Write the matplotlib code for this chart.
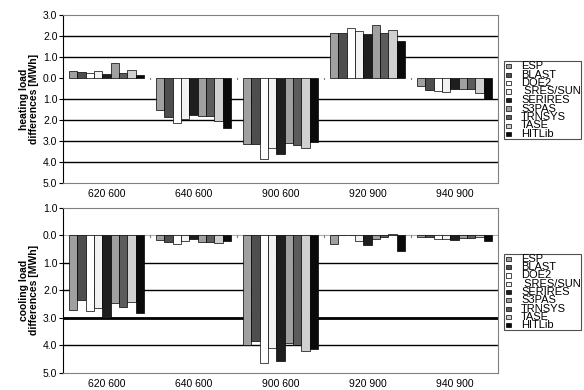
import matplotlib
matplotlib.use("Agg")
import matplotlib.pyplot as plt
import matplotlib.transforms as mtransforms
from matplotlib.patches import Rectangle
from matplotlib.ticker import FuncFormatter, FixedLocator
import numpy as np

plt.rcParams['font.family'] = ['Liberation Sans', 'DejaVu Sans']

cases = ["620 600", "640 600", "900 600", "920 900", "940 900"]
programs = ["ESP", "BLAST", "DOE2", " SRES/SUN", "SERIRES", "S3PAS", "TRNSYS", "TASE", "HITLib"]
colors = ["#a0a0a0", "#4e4e4e", "#ffffff", "#f2f2f2", "#1e1e1e", "#a0a0a0", "#5c5c5c", "#d0d0d0", "#0a0a0a"]

# heating load differences [MWh], per program, across cases
heating = {
    "ESP":       [0.35, -1.52, -3.13, 2.16, -0.38],
    "BLAST":     [0.30, -1.86, -3.16, 2.16, -0.57],
    "DOE2":      [0.25, -2.16, -3.84, 2.40, -0.63],
    " SRES/SUN": [0.35, -1.94, -3.32, 2.22, -0.67],
    "SERIRES":   [0.17, -1.76, -3.60, 2.10, -0.54],
    "S3PAS":     [0.71, -1.79, -3.11, 2.54, -0.51],
    "TRNSYS":    [0.22, -1.81, -3.19, 2.14, -0.54],
    "TASE":      [0.40, -2.03, -3.32, 2.29, -0.73],
    "HITLib":    [0.16, -2.36, -3.05, 1.75, -1.01],
}
# cooling load differences [MWh]
cooling = {
    "ESP":       [-2.72, -0.19, -4.00, -0.31, -0.06],
    "BLAST":     [-2.34, -0.25, -3.83,  0.02, -0.07],
    "DOE2":      [-2.76, -0.33, -4.64, -0.01, -0.13],
    " SRES/SUN": [-2.66, -0.23, -4.11, -0.23, -0.14],
    "SERIRES":   [-2.99, -0.14, -4.57, -0.35, -0.19],
    "S3PAS":     [-2.48, -0.24, -3.93, -0.13, -0.11],
    "TRNSYS":    [-2.60, -0.24, -4.00, -0.08, -0.12],
    "TASE":      [-2.44, -0.28, -4.19,  0.03, -0.06],
    "HITLib":    [-2.82, -0.22, -4.13, -0.57, -0.20],
}

W, H = 584, 390
fig = plt.figure(figsize=(W / 100, H / 100), dpi=100)

def fx(px):
    return px / W

def fy(py):
    return 1 - py / H

bw = 0.0958
x = np.arange(len(cases))

def panel(rect, data, ylim, ylabel, thick=None):
    ax = fig.add_axes(rect)
    n = len(programs)
    for i, p in enumerate(programs):
        off = (i - (n - 1) / 2) * bw
        ax.bar(x + off, data[p], width=bw, color=colors[i], edgecolor="black",
               linewidth=0.5, zorder=3, label=p)
    ax.set_xlim(-0.5, len(cases) - 0.5)
    ax.set_ylim(*ylim)
    yt = np.arange(ylim[0], ylim[1] + 0.5, 1.0)
    ax.yaxis.set_major_locator(FixedLocator(yt))
    ax.yaxis.set_major_formatter(FuncFormatter(lambda v, pos: f"{abs(v):.1f}"))
    for v in yt:
        if v in (ylim[0], ylim[1]) or v == 0:
            continue
        lw = 2.0 if (thick is not None and v == thick) else 1.0
        ax.axhline(v, color="black", linewidth=lw, zorder=1)
    # small category ticks on zero line
    for b in np.arange(0.5, len(cases) - 0.5, 1.0):
        ax.plot([b, b], [0, -0.06], color="#808080", linewidth=0.8, zorder=2)
    ax.set_xticks(x)
    ax.set_xticklabels(cases, fontsize=7.5)
    offset = mtransforms.ScaledTranslation(5 / 100, 0, fig.dpi_scale_trans)
    for lab in ax.get_xticklabels():
        lab.set_transform(lab.get_transform() + offset)
    ax.tick_params(axis="x", length=0, pad=4)
    ax.tick_params(axis="y", labelsize=7.5, length=3, width=0.8, pad=1, direction="out")
    for s in ["top", "right", "bottom"]:
        ax.spines[s].set_color("#808080")
        ax.spines[s].set_linewidth(0.8)
    ax.spines["left"].set_color("black")
    ax.spines["left"].set_linewidth(0.8)
    ax.set_ylabel(ylabel, fontsize=7.5, fontweight="bold", labelpad=3, linespacing=1.0)
    return ax

ax1 = panel([fx(63), fy(183), 435 / W, 168 / H], heating, (-5, 3),
            "heating load\ndifferences [MWh]")
ax2 = panel([fx(63), fy(373), 435 / W, 165.5 / H], cooling, (-5, 1),
            "cooling load\ndifferences [MWh]", thick=-3)
ax2.axhline(0, color="#b0b0b0", linewidth=0.8, zorder=1)

# Excel-style compact legends (entries overlap as in the original)
def legend_box(top, bottom):
    fig.patches.append(Rectangle((fx(504), fy(bottom)), fx(581) - fx(504), fy(top) - fy(bottom),
                                 transform=fig.transFigure, facecolor="white",
                                 edgecolor="#505050", linewidth=0.8))
    pitch = (bottom - top - 10) / (len(programs) - 1)
    for i, p in enumerate(programs):
        yc = top + 5 + pitch * i
        fig.patches.append(Rectangle((fx(506), fy(yc + 2)), fx(511) - fx(506), fy(yc - 2) - fy(yc + 2),
                                     transform=fig.transFigure, facecolor=colors[i],
                                     edgecolor="black", linewidth=0.5))
        fig.text(fx(521), fy(yc), p, fontsize=8, va="center", ha="left")

legend_box(61, 139)
legend_box(254, 330)

fig.savefig("out.png", dpi=100)
